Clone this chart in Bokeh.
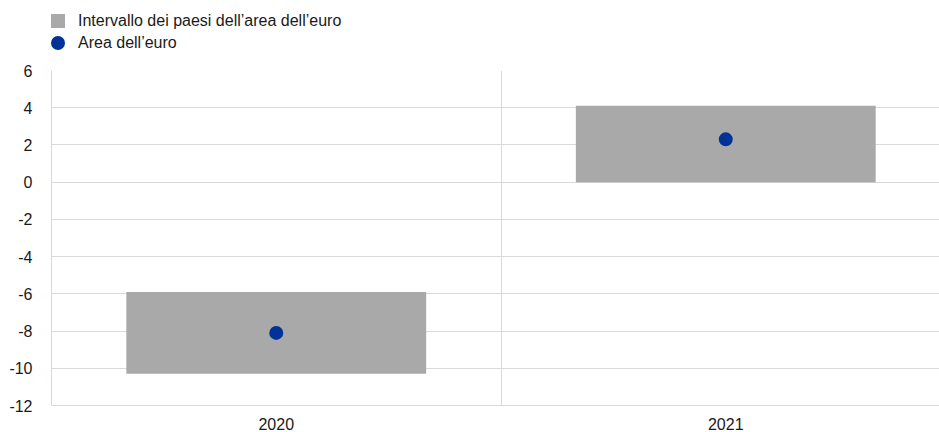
from bokeh.plotting import figure
from bokeh.layouts import column
from bokeh.models import Range1d, FixedTicker, Legend, LegendItem, ColumnDataSource
from bokeh.embed import file_html
from bokeh.resources import INLINE

# ---- data ----
categories = ["2020", "2021"]
range_low = [-10.3, 0.0]
range_high = [-5.9, 4.1]
euro_area = [-8.1, 2.3]
y_ticks = [-12, -10, -8, -6, -4, -2, 0, 2, 4, 6]

label_range = "Intervallo dei paesi dell\u2019area dell\u2019euro"
label_ea = "Area dell\u2019euro"

GRAY = "#a9a9a9"
BLUE = "#003299"
GRID = "#d9d9d9"
FONT = "Liberation Sans"
TXT = "#1a1a1a"
W = 939

xpos = [i + 0.5 for i in range(len(categories))]
src = ColumnDataSource(dict(x=xpos, low=range_low, high=range_high, ea=euro_area, cat=categories))

# ---- legend strip ----
leg = figure(width=W, height=60, output_backend="svg", toolbar_location=None,
             x_range=Range1d(0, 1), y_range=Range1d(0, 1),
             x_axis_type=None, y_axis_type=None,
             min_border_left=0, min_border_right=0, min_border_top=0, min_border_bottom=0)
leg.outline_line_color = None
leg.xgrid.visible = False
leg.ygrid.visible = False
# hidden renderers that only provide the legend glyphs
leg_sq = leg.scatter(x="x", y="ea", source=src, marker="square",
                     fill_color=GRAY, line_color=None, visible=False)
leg_ci = leg.scatter(x="x", y="ea", source=src, marker="circle",
                     fill_color=BLUE, line_color=None, visible=False)


def make_legend(renderer, label, loc):
    return Legend(items=[LegendItem(label=label, renderers=[renderer])],
                  location=loc, glyph_width=35, glyph_height=35, label_standoff=3,
                  padding=0, margin=0, spacing=0,
                  border_line_alpha=0, background_fill_alpha=0,
                  inactive_fill_alpha=0,
                  label_text_font=FONT, label_text_font_size="16px",
                  label_text_color=TXT)


leg.add_layout(make_legend(leg_sq, label_range, (-11, 22)), "center")
leg.add_layout(make_legend(leg_ci, label_ea, (-11, 0)), "center")

# ---- main chart ----
p = figure(width=W, height=372, output_backend="svg", toolbar_location=None,
           x_range=Range1d(0, 1.9755), y_range=Range1d(-12, 6),
           min_border_left=51, min_border_right=0, min_border_top=10, min_border_bottom=24)
p.outline_line_color = None

p.vbar(x="x", bottom="low", top="high", width=0.667, source=src,
       fill_color=GRAY, line_color=None)
p.scatter(x="x", y="ea", source=src, marker="circle", size=14,
          fill_color=BLUE, line_color=None)

p.xaxis.ticker = FixedTicker(ticks=xpos)
p.xaxis.major_label_overrides = {x: c for x, c in zip(xpos, categories)}
p.xaxis.major_tick_line_color = None
p.xaxis.minor_tick_line_color = None
p.xaxis.axis_line_color = GRID
p.xaxis.major_label_standoff = 6
p.xaxis.major_label_text_font = FONT
p.xaxis.major_label_text_font_size = "16px"
p.xaxis.major_label_text_color = TXT

p.yaxis.ticker = FixedTicker(ticks=y_ticks)
p.yaxis.major_label_overrides = {t: str(t) for t in y_ticks}
p.yaxis.major_tick_line_color = None
p.yaxis.minor_tick_line_color = None
p.yaxis.axis_line_color = GRID
p.yaxis.major_label_standoff = 13
p.yaxis.major_label_text_font = FONT
p.yaxis.major_label_text_font_size = "16px"
p.yaxis.major_label_text_color = TXT

p.xgrid.ticker = FixedTicker(ticks=[0, 1, 2])
p.xgrid.grid_line_color = GRID
p.ygrid.ticker = FixedTicker(ticks=y_ticks)
p.ygrid.grid_line_color = GRID

layout = column(leg, p, spacing=0)
open("out.html", "w").write(file_html(layout, INLINE))
